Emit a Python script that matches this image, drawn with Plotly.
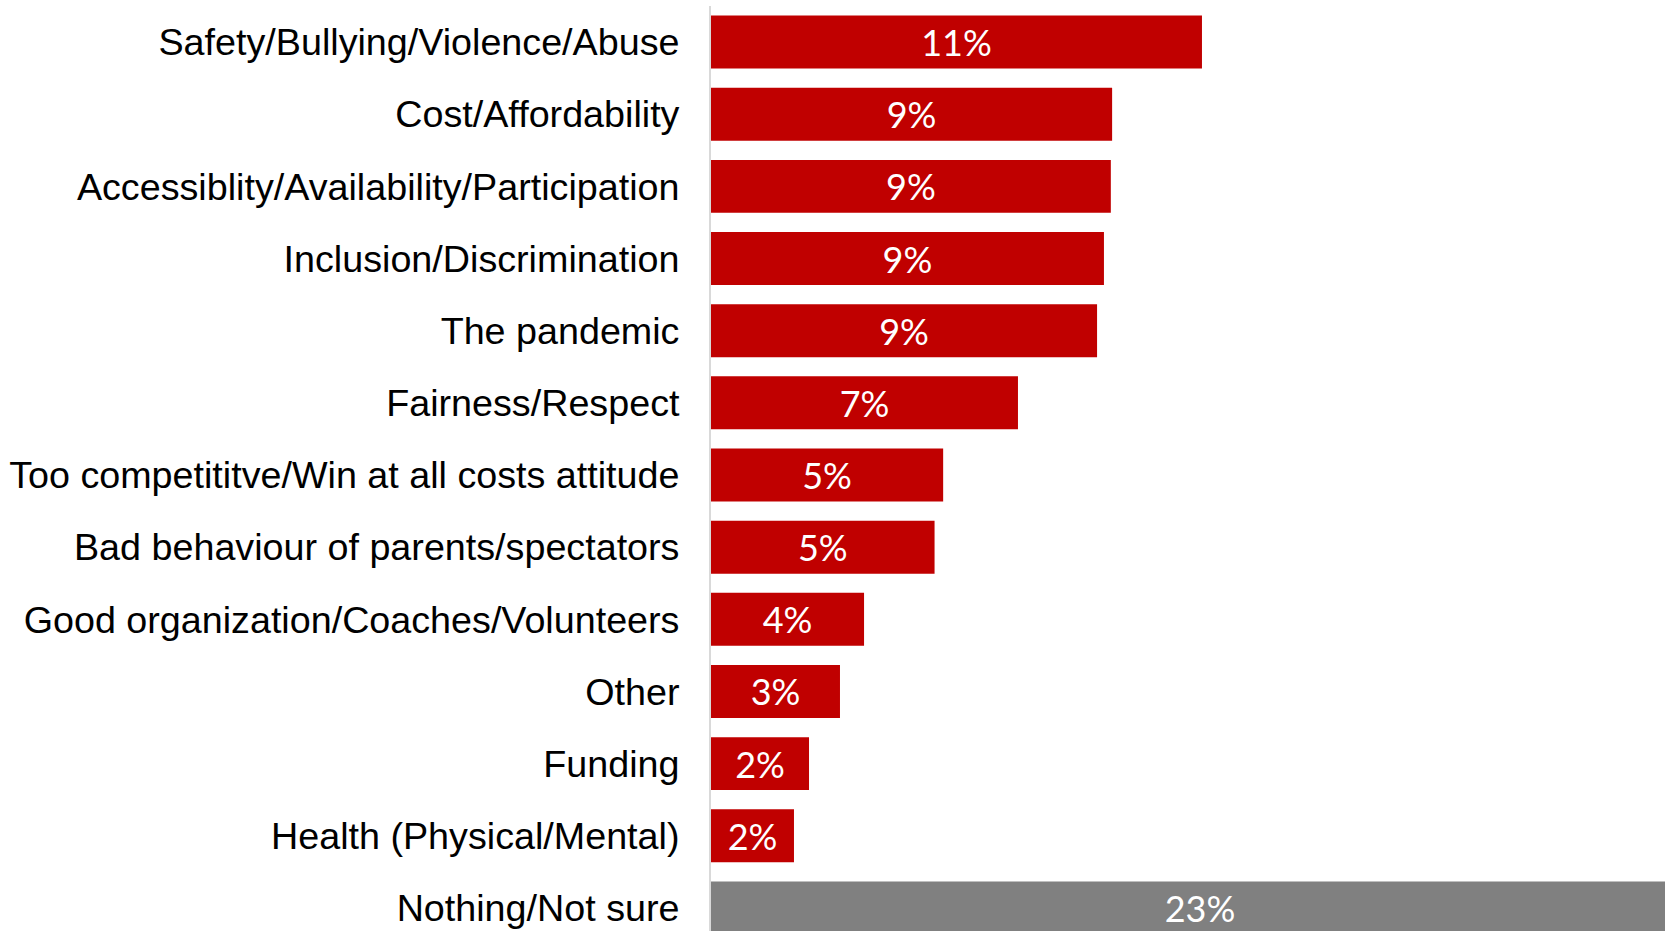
import plotly.graph_objects as go

# Survey responses: share of mentions per theme (percent)
categories = [
    "Safety/Bullying/Violence/Abuse",
    "Cost/Affordability",
    "Accessiblity/Availability/Participation",
    "Inclusion/Discrimination",
    "The pandemic",
    "Fairness/Respect",
    "Too competititve/Win at all costs attitude",
    "Bad behaviour of parents/spectators",
    "Good organization/Coaches/Volunteers",
    "Other",
    "Funding",
    "Health (Physical/Mental)",
    "Nothing/Not sure",
]
values = [11.42, 9.33, 9.30, 9.14, 8.98, 7.14, 5.40, 5.20, 3.56, 3.00, 2.28, 1.93, 22.75]

RED = "#C00000"
GREY = "#808080"
colors = [GREY if c == "Nothing/Not sure" else RED for c in categories]

fig = go.Figure(
    go.Bar(
        x=values,
        y=categories,
        orientation="h",
        marker=dict(color=colors, line=dict(width=0)),
        texttemplate="%{x:.0f}%",
        textposition="inside",
        insidetextanchor="middle",
        constraintext="none",
        textfont=dict(family="Lato", size=36, color="white"),
        hoverinfo="skip",
    )
)

fig.update_layout(
    width=1665,
    height=931,
    margin=dict(l=711, r=0, t=6, b=0),
    paper_bgcolor="white",
    plot_bgcolor="white",
    bargap=0.266,
    showlegend=False,
)

fig.update_xaxes(
    range=[0, 22.19],
    showgrid=False,
    zeroline=False,
    showticklabels=False,
    showline=False,
    ticks="",
)

fig.update_yaxes(
    categoryorder="array",
    categoryarray=categories,
    range=[12.32, -0.5],
    showgrid=False,
    zeroline=False,
    showline=True,
    linecolor="#D9D9D9",
    linewidth=2,
    ticks="",
    ticklabelstandoff=22,
    tickfont=dict(family="Liberation Sans", size=37.7, color="black"),
)

fig.write_html("out.html")
